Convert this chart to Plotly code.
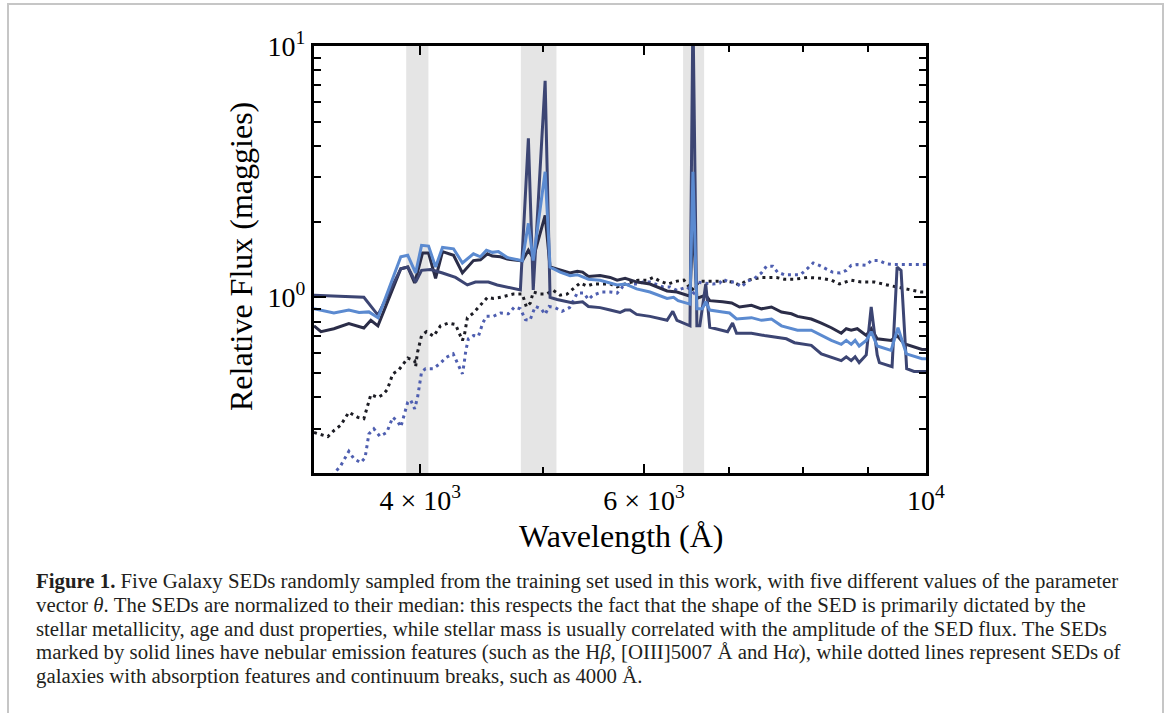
import math
import plotly.graph_objects as go

# ---------------- data ----------------
wave_a = [3300, 3342, 3421, 3515, 3612, 3658, 3705, 3862, 3911, 3960, 4017, 4061, 4113, 4165,
          4249, 4318, 4405, 4461, 4518, 4559, 4626, 4684, 4813, 4866, 4909, 5016, 5061, 5154,
          5248, 5317, 5368, 5425, 5541, 5643, 5715, 5798, 5925, 6065, 6256, 6369, 6521, 6556,
          6603, 6710, 6759, 6918, 7033, 7133, 7289, 7422, 7558, 7696, 7837, 7923, 8124, 8273,
          8424, 8577, 8655, 8733, 8829, 8974, 9055, 9154, 9387, 9490, 9610, 9928, 10000]
flux_a = [0.77, 0.73, 0.75, 0.786, 0.755, 0.81, 0.77, 1.30, 1.32, 1.14, 1.50, 1.50, 1.19, 1.52,
          1.47, 1.25, 1.40, 1.41, 1.49, 1.46, 1.45, 1.42, 1.395, 1.54, 1.43, 2.12, 1.32, 1.28,
          1.25, 1.27, 1.26, 1.21, 1.22, 1.20, 1.17, 1.19, 1.15, 1.13, 1.06, 1.05, 1.01, 2.0,
          0.99, 1.02, 0.97, 0.96, 0.95, 0.915, 0.93, 0.90, 0.915, 0.874, 0.86, 0.84, 0.82, 0.79,
          0.757, 0.72, 0.75, 0.74, 0.75, 0.705, 0.75, 0.684, 0.674, 0.705, 0.654, 0.62, 0.62]

wave_b = [3300, 3612, 3705, 3862, 3911, 3967, 4010, 4076, 4165, 4264, 4357, 4421, 4526, 4599,
          4796, 4866, 4909, 5016, 5061, 5126, 5276, 5368, 5425, 5541, 5643, 5745, 5798, 5850,
          5920, 6065, 6256, 6321, 6369, 6521, 6556, 6603, 6638, 6710, 6759, 6918, 6981, 7044,
          7095, 7197, 7289, 7462, 7641, 7765, 7880, 8124, 8273, 8577, 8655, 8733, 8795, 8860,
          8974, 9055, 9154, 9190, 9404, 9490, 9558, 9656, 9786, 10000]
flux_b = [1.02, 1.00, 0.85, 1.30, 1.32, 1.15, 1.28, 1.29, 1.25, 1.20, 1.12, 1.15, 1.15, 1.12,
          1.07, 4.29, 1.07, 7.27, 1.00, 0.98, 0.95, 0.96, 0.92, 0.91, 0.89, 0.87, 0.89, 0.89,
          0.855, 0.84, 0.81, 0.88, 0.81, 0.77, 14.0, 0.77, 0.77, 1.13, 0.76, 0.74, 0.73, 0.79,
          0.72, 0.72, 0.72, 0.705, 0.695, 0.684, 0.66, 0.644, 0.596, 0.56, 0.58, 0.56, 0.58, 0.55,
          0.59, 0.915, 0.59, 0.55, 0.53, 1.32, 1.28, 0.52, 0.507, 0.507]

wave_c = [3300, 3421, 3515, 3581, 3645, 3706, 3862, 3911, 3967, 4010, 4061, 4113, 4165, 4249,
          4318, 4405, 4461, 4510, 4559, 4609, 4684, 4813, 4866, 4909, 5016, 5061, 5154, 5248,
          5317, 5425, 5541, 5643, 5715, 5798, 5920, 6065, 6256, 6330, 6382, 6521, 6556, 6603,
          6668, 6710, 6759, 6918, 7006, 7095, 7289, 7422, 7558, 7696, 7923, 8124, 8273, 8424,
          8577, 8655, 8733, 8795, 8860, 8974, 9055, 9154, 9387, 9505, 9650, 9928, 10000]
flux_c = [0.90, 0.866, 0.89, 0.87, 0.875, 0.83, 1.45, 1.47, 1.25, 1.61, 1.60, 1.32, 1.58, 1.56,
          1.37, 1.49, 1.45, 1.54, 1.51, 1.52, 1.44, 1.40, 1.97, 1.40, 3.16, 1.32, 1.26, 1.22,
          1.23, 1.18, 1.17, 1.14, 1.12, 1.13, 1.08, 1.05, 0.99, 1.00, 0.97, 0.94, 3.16, 0.90,
          0.90, 0.96, 0.89, 0.874, 0.866, 0.82, 0.83, 0.81, 0.82, 0.77, 0.74, 0.74, 0.705, 0.674,
          0.65, 0.674, 0.65, 0.674, 0.64, 0.674, 0.73, 0.64, 0.615, 0.757, 0.596, 0.57, 0.57]

wave_d = [3300, 3342, 3384, 3421, 3464, 3515, 3573, 3612, 3658, 3705, 3738, 3769, 3806, 3849,
          3911, 3960, 3967, 3981, 4010, 4046, 4098, 4150, 4210, 4264, 4295, 4318, 4334, 4357,
          4405, 4475, 4518, 4567, 4626, 4735, 4813, 4849, 4883, 4909, 4971, 5025, 5089, 5154,
          5219, 5276, 5344, 5412, 5471, 5541, 5643, 5715, 5798, 5936, 6032, 6100, 6177, 6268,
          6369, 6450, 6540, 6584, 6638, 6740, 6850, 6946, 7044, 7133, 7237, 7422, 7627, 7738,
          7880, 8065, 8273, 8424, 8546, 8733, 8892, 9110, 9320, 9558, 9786, 9910, 10000]
flux_d = [0.29, 0.284, 0.279, 0.295, 0.31, 0.349, 0.333, 0.329, 0.41, 0.40, 0.41, 0.43, 0.496, 0.515,
          0.573, 0.56, 0.53, 0.605, 0.705, 0.73, 0.70, 0.77, 0.79, 0.78, 0.72, 0.674, 0.71, 0.83,
          0.866, 0.944, 1.00, 0.99, 1.00, 1.03, 1.03, 0.915, 0.95, 1.05, 1.03, 1.03, 1.066, 1.02,
          1.03, 1.08, 1.14, 1.11, 1.13, 1.13, 1.13, 1.10, 1.13, 1.17, 1.17, 1.20, 1.16, 1.13,
          1.16, 1.17, 1.066, 1.11, 1.16, 1.16, 1.16, 1.16, 1.15, 1.12, 1.17, 1.20, 1.20, 1.18,
          1.18, 1.20, 1.19, 1.17, 1.13, 1.17, 1.15, 1.15, 1.12, 1.09, 1.07, 1.05, 1.05]

wave_e = [3300, 3464, 3515, 3547, 3592, 3620, 3645, 3678, 3718, 3765, 3806, 3841, 3862, 3911,
          3932, 3960, 3981, 4010, 4039, 4094, 4150, 4188, 4246, 4279, 4297, 4318, 4330, 4345,
          4365, 4405, 4445, 4480, 4510, 4567, 4626, 4693, 4744, 4796, 4840, 4880, 4927, 4980,
          5016, 5052, 5107, 5172, 5243, 5276, 5317, 5381, 5425, 5471, 5560, 5643, 5715, 5770,
          5850, 5936, 5989, 6065, 6144, 6211, 6290, 6369, 6485, 6565, 6617, 6674, 6799, 6882,
          6918, 7006, 7069, 7158, 7237, 7329, 7422, 7490, 7576, 7641, 7738, 7851, 7966, 8065,
          8152, 8243, 8348, 8440, 8560, 8655, 8733, 8829, 8974, 9055, 9190, 9303, 9440, 9576,
          9733, 9874, 10000]
flux_e = [0.16, 0.214, 0.244, 0.228, 0.22, 0.23, 0.286, 0.30, 0.28, 0.29, 0.333, 0.32, 0.305, 0.383,
          0.39, 0.36, 0.40, 0.505, 0.52, 0.52, 0.547, 0.575, 0.596, 0.55, 0.524, 0.496, 0.54, 0.615,
          0.684, 0.705, 0.70, 0.79, 0.84, 0.84, 0.866, 0.86, 0.915, 0.90, 0.815, 0.81, 0.92, 0.90,
          0.855, 0.92, 0.91, 0.88, 0.91, 0.97, 1.04, 1.04, 0.98, 1.02, 1.05, 1.05, 1.04, 1.10,
          1.13, 1.13, 1.15, 1.15, 1.12, 1.10, 1.10, 1.066, 1.10, 1.04, 1.15, 1.14, 1.13, 1.14,
          1.18, 1.15, 1.15, 1.10, 1.16, 1.19, 1.25, 1.33, 1.33, 1.26, 1.23, 1.23, 1.23, 1.30,
          1.37, 1.34, 1.30, 1.26, 1.25, 1.28, 1.34, 1.35, 1.34, 1.40, 1.40, 1.36, 1.35, 1.35,
          1.35, 1.35, 1.35]

# shaded spectral regions (Å): 4000 Å break, Hβ+[OIII], Hα
bands = [(3900, 4060), (4800, 5120), (6440, 6690)]

x_range = (3300, 10000)
y_range = (0.2, 10)
x_major = [4000, 6000, 10000]
x_major_text = ["4 × 10<sup>3</sup>", "6 × 10<sup>3</sup>", "10<sup>4</sup>"]
x_minor = [5000, 7000, 8000, 9000]
y_major = [1, 10]
y_major_text = ["10<sup>0</sup>", "10<sup>1</sup>"]
y_minor = [0.2, 0.3, 0.4, 0.5, 0.6, 0.7, 0.8, 0.9, 2, 3, 4, 5, 6, 7, 8, 9]

caption_lines = [
    "<b>Figure 1.</b> Five Galaxy SEDs randomly sampled from the training set used in this work, with five different values of the parameter",
    "vector <i>θ</i>. The SEDs are normalized to their median: this respects the fact that the shape of the SED is primarily dictated by the",
    "stellar metallicity, age and dust properties, while stellar mass is usually correlated with the amplitude of the SED flux. The SEDs",
    "marked by solid lines have nebular emission features (such as the H<i>β</i>, [OIII]5007 Å and H<i>α</i>), while dotted lines represent SEDs of",
    "galaxies with absorption features and continuum breaks, such as 4000 Å.",
]

# ---------------- layout geometry (pixels) ----------------
W, H = 1170, 713
PL, PR, PT, PB = 314, 926, 46, 473
pw, ph = PR - PL, PB - PT


def px(xp):
    return (xp - PL) / pw


def py(yp):
    return (PB - yp) / ph


fig = go.Figure()

for lo, hi in bands:
    fig.add_trace(go.Scatter(x=[lo, hi, hi, lo, lo], y=[0.05, 0.05, 50, 50, 0.05],
                             fill="toself", fillcolor="#e5e5e5", line=dict(width=0),
                             mode="lines", hoverinfo="skip", showlegend=False))

fig.add_trace(go.Scatter(x=wave_d, y=flux_d, mode="lines",
                         line=dict(color="#1c1c24", width=3, dash="3px,4px"), showlegend=False))
fig.add_trace(go.Scatter(x=wave_e, y=flux_e, mode="lines",
                         line=dict(color="#4e5eb0", width=3, dash="3px,4px"), showlegend=False))
fig.add_trace(go.Scatter(x=wave_a, y=flux_a, mode="lines",
                         line=dict(color="#2b2d48", width=3), showlegend=False))
fig.add_trace(go.Scatter(x=wave_b, y=flux_b, mode="lines",
                         line=dict(color="#3c4573", width=3), showlegend=False))
fig.add_trace(go.Scatter(x=wave_c, y=flux_c, mode="lines",
                         line=dict(color="#5b8ad0", width=3), showlegend=False))

axis_font = dict(family="Liberation Serif", size=28, color="black")

fig.update_xaxes(type="log", range=[math.log10(x_range[0]), math.log10(x_range[1])],
                 showline=True, linecolor="black", linewidth=3, mirror="ticks",
                 ticks="inside", ticklen=9, tickwidth=2, tickcolor="black",
                 tickmode="array", tickvals=x_major, ticktext=x_major_text,
                 tickfont=axis_font, showgrid=False, zeroline=False,
                 minor=dict(ticks="inside", ticklen=6, tickwidth=2, tickcolor="black",
                            tickmode="array", tickvals=x_minor, showgrid=False))
fig.update_yaxes(type="log", range=[math.log10(y_range[0]), math.log10(y_range[1])],
                 showline=True, linecolor="black", linewidth=3, mirror="ticks",
                 ticks="inside", ticklen=12, tickwidth=2, tickcolor="black",
                 tickmode="array", tickvals=y_major, ticktext=y_major_text,
                 tickfont=axis_font, showgrid=False, zeroline=False,
                 minor=dict(ticks="inside", ticklen=7, tickwidth=2, tickcolor="black",
                            tickmode="array", tickvals=y_minor, showgrid=False))

annotations = [
    dict(text="Wavelength (Å)", x=px(621), y=py(536), xref="paper", yref="paper",
         showarrow=False, xanchor="center", yanchor="middle",
         font=dict(family="Liberation Serif", size=32, color="black")),
    dict(text="Relative Flux (maggies)", x=px(241), y=py(257), xref="paper", yref="paper",
         showarrow=False, xanchor="center", yanchor="middle", textangle=-90,
         font=dict(family="Liberation Serif", size=32, color="black")),
]
cap_y = [581, 605, 629, 652, 676]
for line, yy in zip(caption_lines, cap_y):
    annotations.append(dict(text=line, x=px(34), y=py(yy), xref="paper", yref="paper",
                            showarrow=False, xanchor="left", yanchor="middle", align="left",
                            font=dict(family="Liberation Serif", size=20.8, color="#231f20")))

shapes = [dict(type="rect", xref="paper", yref="paper", x0=px(8), x1=px(1163), y0=py(740), y1=py(4),
               line=dict(color="#c6c6c6", width=2), fillcolor="rgba(0,0,0,0)", layer="below")]

fig.update_layout(width=W, height=H, margin=dict(l=PL, r=W - PR, t=PT, b=H - PB),
                  paper_bgcolor="white", plot_bgcolor="white",
                  annotations=annotations, shapes=shapes, showlegend=False)

fig.write_html("out.html")
